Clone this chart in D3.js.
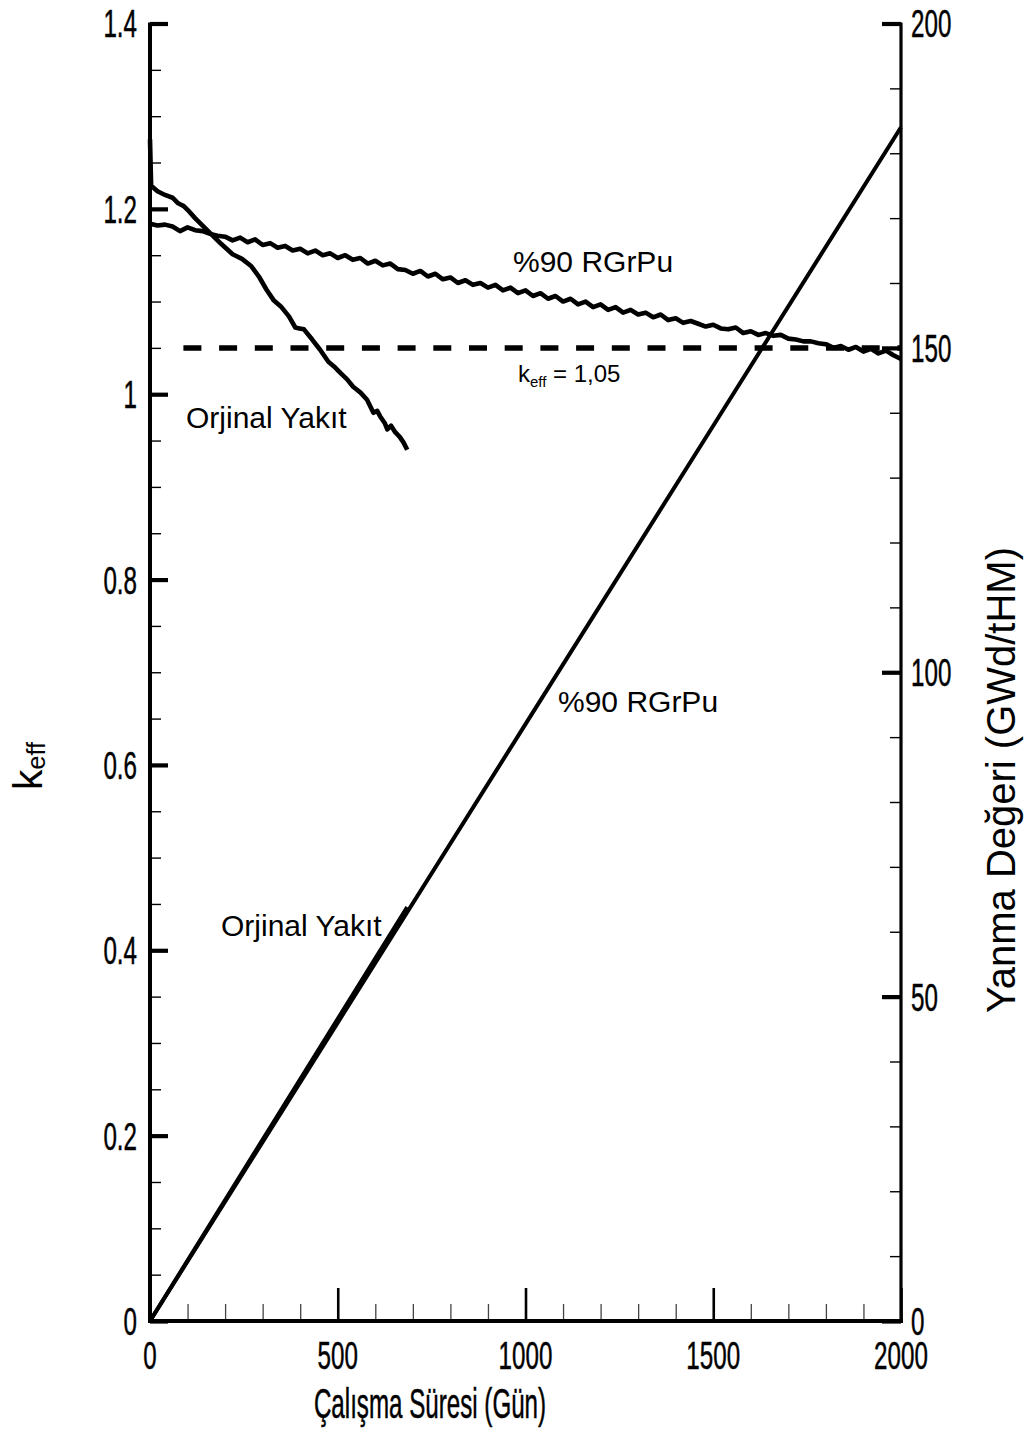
<!DOCTYPE html>
<html>
<head>
<meta charset="utf-8">
<script src="https://cdn.jsdelivr.net/npm/d3@7/dist/d3.min.js"></script>
<style>
  html, body { margin: 0; padding: 0; background: #fff; }
  svg { display: block; }
  text { font-family: "Liberation Sans", Arial, Helvetica, sans-serif; fill: #000; }
</style>
</head>
<body>
<svg id="chart" width="1032" height="1435"></svg>
<script>
// ---------------- data ----------------
const xTicks = [0, 500, 1000, 1500, 2000];
const xTickLabels = ["0", "500", "1000", "1500", "2000"];
const yLeftTicks = [0, 0.2, 0.4, 0.6, 0.8, 1.0, 1.2, 1.4];
const yLeftTickLabels = ["0", "0.2", "0.4", "0.6", "0.8", "1", "1.2", "1.4"];
const yRightTicks = [0, 50, 100, 150, 200];
const yRightTickLabels = ["0", "50", "100", "150", "200"];

// k_eff, %90 RGrPu
const rgrpuDays = [0,20,40,60,80,100,120,140,160,180,200,220,240,260,280,300,320,340,360,380,
  400,420,440,460,480,500,520,540,560,580,600,620,640,660,680,700,720,740,760,780,
  800,820,840,860,880,900,920,940,960,980,1000,1020,1040,1060,1080,1100,1120,1140,1160,1180,
  1200,1220,1240,1260,1280,1300,1320,1340,1360,1380,1400,1420,1440,1460,1480,1500,1520,1540,1560,1580,
  1600,1620,1640,1660,1680,1700,1720,1740,1760,1780,1800,1820,1840,1860,1880,1900,1920,1940,1960,1980,2000];
const rgrpuKeff = [1.184,1.182,1.183,1.181,1.176,1.180,1.177,1.176,1.173,1.171,1.170,1.166,1.169,1.164,1.167,1.161,1.163,1.158,1.160,1.155,
  1.157,1.152,1.155,1.150,1.152,1.147,1.150,1.145,1.147,1.141,1.144,1.139,1.141,1.135,1.134,1.130,1.133,1.127,1.130,1.124,
  1.126,1.120,1.123,1.118,1.120,1.115,1.118,1.112,1.115,1.109,1.112,1.106,1.109,1.103,1.106,1.100,1.103,1.097,1.100,1.094,
  1.097,1.091,1.094,1.088,1.091,1.086,1.088,1.083,1.086,1.080,1.082,1.077,1.079,1.076,1.073,1.075,1.071,1.070,1.072,1.066,
  1.068,1.064,1.066,1.063,1.064,1.060,1.059,1.057,1.057,1.055,1.054,1.050,1.052,1.048,1.051,1.046,1.049,1.044,1.047,1.042,1.038];

// k_eff, Orjinal Yakıt
const origDays = [0,3,20,40,60,75,90,100,120,140,165,190,220,245,270,290,310,330,350,370,387,398,410,432,453,475,490,507,525,541,560,578,595,605,613,625,632,642,653,665,675,685];
const origKeff = [1.275,1.225,1.219,1.215,1.212,1.206,1.203,1.199,1.190,1.182,1.172,1.162,1.151,1.146,1.138,1.127,1.113,1.101,1.094,1.084,1.072,1.071,1.070,1.059,1.048,1.035,1.030,1.023,1.016,1.008,1.002,0.994,0.980,0.982,0.976,0.969,0.962,0.966,0.959,0.954,0.948,0.940];

// burnup (GWd/tHM)
const rgrpuBurnDays = [0, 500, 1000, 1500, 2000];
const rgrpuBurnup = [0, 46.0, 92.0, 138.0, 184.0];
const origBurnDays = [0, 250, 500, 685];
const origBurnup = [0, 23.3, 46.6, 63.8];

const keffLimit = 1.05;

// ---------------- drawing ----------------
const svg = d3.select("#chart");
const L = 150, R = 901, T = 23.5, B = 1321;
const x = d3.scaleLinear().domain([0, 2000]).range([L, R]);
const yL = d3.scaleLinear().domain([0, 1.4]).range([B, T]);
const yR = d3.scaleLinear().domain([0, 200]).range([B, T]);

const SX = 0.62;   // condensed tick font
const TF = 39;

function styleAxis(g, w, col) {
  g.select(".domain").remove();
  g.selectAll(".tick line").attr("stroke", col || "#000").attr("stroke-width", w);
  g.selectAll(".tick text").remove();
}

// bottom axis minor (every 100 days) + major
svg.append("g").attr("transform", `translate(0,${B})`)
  .call(d3.axisBottom(x).tickValues(d3.range(0, 2001, 100).filter(v => v % 500 !== 0)).tickSize(-17).tickFormat(""))
  .call(g => styleAxis(g, 1.3, "#444"));
svg.append("g").attr("transform", `translate(0,${B})`)
  .call(d3.axisBottom(x).tickValues(xTicks).tickSize(-33).tickFormat(""))
  .call(g => styleAxis(g, 2.6));

// left axis minor (0.05) + major
svg.append("g").attr("transform", `translate(${L},0)`)
  .call(d3.axisLeft(yL).tickValues(d3.range(0, 29).map(i => i * 0.05).filter((v, i) => i % 4 !== 0)).tickSize(-11).tickFormat(""))
  .call(g => styleAxis(g, 1.4));
svg.append("g").attr("transform", `translate(${L},0)`)
  .call(d3.axisLeft(yL).tickValues(yLeftTicks).tickSize(-18).tickFormat(""))
  .call(g => styleAxis(g, 4.2));

// right axis minor (10) + major
svg.append("g").attr("transform", `translate(${R},0)`)
  .call(d3.axisRight(yR).tickValues(d3.range(0, 201, 10).filter(v => v % 50 !== 0)).tickSize(-11).tickFormat(""))
  .call(g => styleAxis(g, 1.4));
svg.append("g").attr("transform", `translate(${R},0)`)
  .call(d3.axisRight(yR).tickValues(yRightTicks).tickSize(-19).tickFormat(""))
  .call(g => styleAxis(g, 4.2));

// axis lines
svg.append("line").attr("x1", L).attr("x2", L).attr("y1", T - 1).attr("y2", B + 2)
  .attr("stroke", "#000").attr("stroke-width", 4);
svg.append("line").attr("x1", R).attr("x2", R).attr("y1", T - 1).attr("y2", B + 2)
  .attr("stroke", "#000").attr("stroke-width", 3.2);
svg.append("line").attr("x1", L - 2).attr("x2", R + 2).attr("y1", B).attr("y2", B)
  .attr("stroke", "#000").attr("stroke-width", 4.2);

// tick labels (condensed)
function condensed(xp, yp, txt, anchor, size, sx) {
  svg.append("text")
    .attr("transform", `translate(${xp},${yp}) scale(${sx || SX},1)`)
    .attr("text-anchor", anchor)
    .attr("font-size", size || TF)
    .attr("stroke", "#000").attr("stroke-width", 0.5)
    .text(txt);
}
yLeftTicks.forEach((v, i) => condensed(137, yL(v) + 0.358 * TF, yLeftTickLabels[i], "end"));
yRightTicks.forEach((v, i) => condensed(911, yR(v) + 0.358 * TF, yRightTickLabels[i], "start"));
xTicks.forEach((v, i) => condensed(x(v), 1369, xTickLabels[i], "middle"));

// axis titles
condensed(430, 1418, "Çalışma Süresi (Gün)", "middle", 42, 0.575);

svg.append("text")
  .attr("transform", `translate(1015,780) rotate(-90)`)
  .attr("text-anchor", "middle").attr("font-size", 40)
  .text("Yanma Değeri (GWd/tHM)");

const kl = svg.append("text")
  .attr("transform", `translate(42,766) rotate(-90)`)
  .attr("text-anchor", "middle").attr("font-size", 41);
kl.append("tspan").text("k");
kl.append("tspan").attr("font-size", 25).attr("dy", 3).text("eff");

// lines
const lineK = d3.line().x(d => x(d[0])).y(d => yL(d[1]));
const lineB = d3.line().x(d => x(d[0])).y(d => yR(d[1]));

svg.append("path").datum(rgrpuBurnDays.map((d, i) => [d, rgrpuBurnup[i]]))
  .attr("d", lineB).attr("fill", "none").attr("stroke", "#000").attr("stroke-width", 4);
svg.append("path").datum(origBurnDays.map((d, i) => [d, origBurnup[i]]))
  .attr("d", lineB).attr("fill", "none").attr("stroke", "#000").attr("stroke-width", 4);

// dashed k_eff = 1.05 line: leading gap, then 18px dashes / 17.7px gaps
const dashes = ["0", "33.4"].concat(d3.range(25).flatMap(() => ["18", "17.7"])).join(" ");
svg.append("path").datum([[0, keffLimit], [2000, keffLimit]])
  .attr("d", lineK).attr("fill", "none").attr("stroke", "#000").attr("stroke-width", 5.5)
  .attr("stroke-dasharray", dashes);

svg.append("path").datum(rgrpuDays.map((d, i) => [d, rgrpuKeff[i]]))
  .attr("d", lineK).attr("fill", "none").attr("stroke", "#000").attr("stroke-width", 4.6)
  .attr("stroke-linejoin", "round");
svg.append("path").datum(origDays.map((d, i) => [d, origKeff[i]]))
  .attr("d", lineK).attr("fill", "none").attr("stroke", "#000").attr("stroke-width", 4.6)
  .attr("stroke-linejoin", "round");

// annotations
function label(xp, yp, txt, size) {
  svg.append("text").attr("x", xp).attr("y", yp).attr("font-size", size).text(txt);
}
label(513, 272, "%90 RGrPu", 30);
label(558, 712, "%90 RGrPu", 30);
label(186, 428, "Orjinal Yakıt", 30);
label(221, 936, "Orjinal Yakıt", 30);

const kt = svg.append("text").attr("x", 518).attr("y", 382).attr("font-size", 24);
kt.append("tspan").text("k");
kt.append("tspan").attr("font-size", 15).attr("dy", 5).text("eff");
kt.append("tspan").attr("dy", -5).text(" = 1,05");
</script>
</body>
</html>
